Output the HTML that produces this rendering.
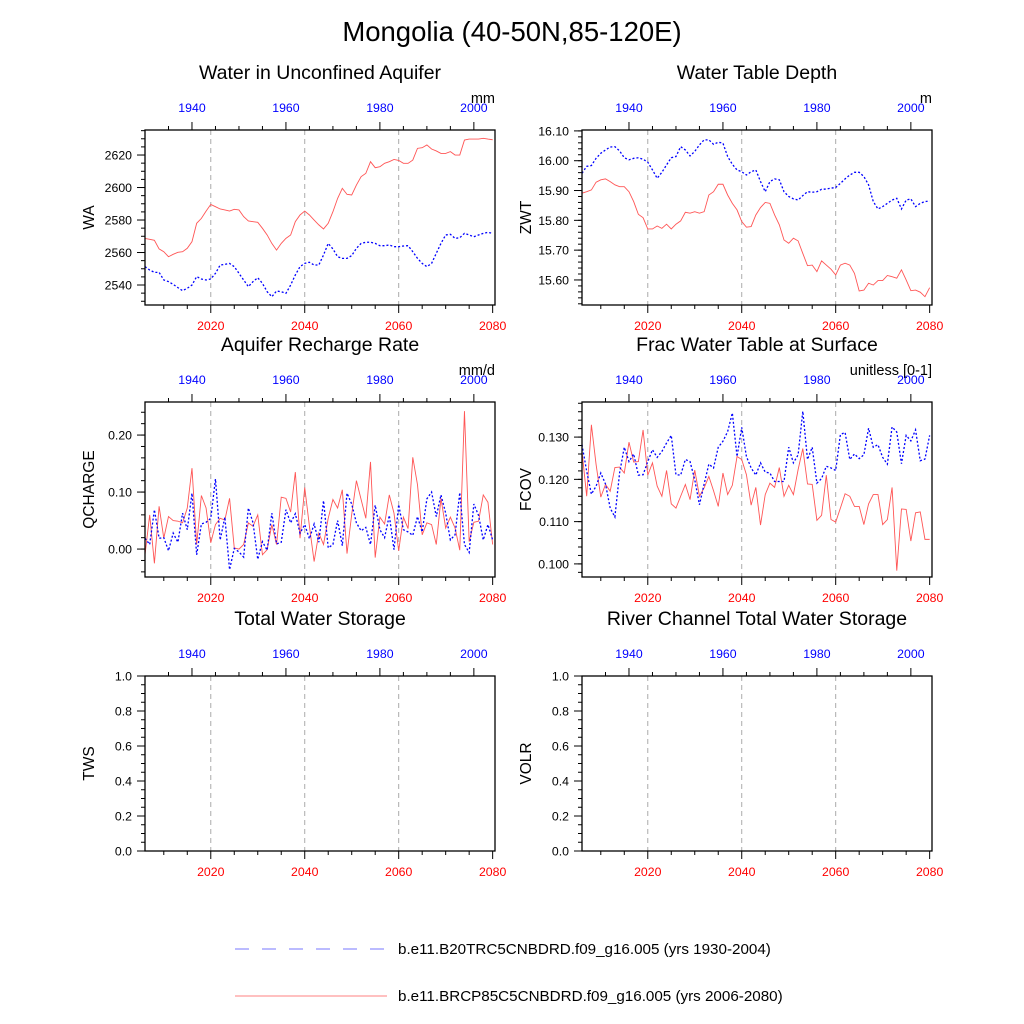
<!DOCTYPE html>
<html><head><meta charset="utf-8"><style>
html,body{margin:0;padding:0;background:#fff;}
svg{display:block;font-family:"Liberation Sans",sans-serif;}
</style></head><body>
<svg id="chart" width="1024" height="1024" viewBox="0 0 1024 1024">
<rect width="1024" height="1024" fill="#fff"/>
<text x="512" y="41" text-anchor="middle" font-size="27.5">Mongolia (40-50N,85-120E)</text>
<g id="legend">
 <line x1="235" y1="949" x2="387" y2="949" stroke="#7777ff" stroke-width="1" stroke-dasharray="14,13"/>
 <text x="398" y="954" font-size="15.2">b.e11.B20TRC5CNBDRD.f09_g16.005 (yrs 1930-2004)</text>
 <line x1="235" y1="996" x2="387" y2="996" stroke="#ff8080" stroke-width="1"/>
 <text x="398" y="1001" font-size="15.2">b.e11.BRCP85C5CNBDRD.f09_g16.005 (yrs 2006-2080)</text>
</g>
</svg>
<script>
const futureYears = Array.from({length:75},(_, i)=>2006+i);
const histYears = Array.from({length:75},(_, i)=>1930+i);
const bottomTicks = [2020,2040,2060,2080];
const topTicks = [1940,1960,1980,2000];

const waFuture = [2568.7,2568.1,2567.5,2562.2,2560.5,2557.4,2558.9,2560.1,2560.5,2562.6,2566.7,2578,2581,2585.5,2589.6,2588.2,2586.8,2586.2,2585.5,2586.6,2586.2,2582.1,2579.4,2579,2578.6,2574.9,2570.8,2565.6,2561.5,2565.6,2568.7,2570.8,2579,2583.1,2585.5,2583.1,2580,2577,2574.5,2578,2585.1,2593.3,2599.5,2595.8,2595.4,2601.5,2606.7,2608.7,2615.9,2612.2,2612.8,2614.9,2615.9,2617.3,2616.7,2614.9,2614.9,2616.9,2624.1,2624.5,2626.2,2623.7,2622.5,2621,2621,2622.1,2620,2620,2629.2,2629.8,2629.8,2629.8,2630.3,2629.8,2629.4];
const waHist = [2551.3,2549.2,2547.8,2547.8,2543.1,2542.1,2540.4,2538.4,2536.5,2538,2540,2545.2,2543.7,2543.1,2543.7,2547.2,2552.3,2552.7,2553.3,2551.3,2547.2,2543.1,2539,2542.1,2544.5,2541,2535.9,2532.8,2536.3,2535.9,2534.9,2540,2546.2,2551.3,2553.3,2554,2552.3,2552.3,2558.5,2565.6,2562.2,2557.4,2556.4,2556.4,2558.1,2562.6,2565.6,2566.3,2566.3,2565.6,2564.2,2564.2,2564.6,2563.6,2563.6,2564,2564.2,2560.5,2556.4,2553.3,2551.3,2553.3,2559.5,2565.6,2570.8,2571.2,2568.7,2569.1,2571.8,2570.8,2569.7,2570.8,2571.8,2572.4,2571.8];
const zwtFuture = [15.891,15.896,15.902,15.928,15.936,15.939,15.930,15.919,15.913,15.913,15.896,15.863,15.820,15.809,15.771,15.771,15.781,15.773,15.787,15.771,15.787,15.798,15.827,15.824,15.829,15.824,15.829,15.885,15.896,15.921,15.921,15.885,15.857,15.835,15.796,15.777,15.779,15.818,15.843,15.860,15.857,15.818,15.785,15.734,15.723,15.740,15.731,15.689,15.648,15.650,15.628,15.664,15.650,15.636,15.617,15.650,15.656,15.650,15.622,15.563,15.566,15.589,15.583,15.598,15.598,15.615,15.611,15.606,15.634,15.600,15.564,15.566,15.559,15.544,15.574];
const zwtHist = [15.958,15.981,15.984,16.008,16.025,16.036,16.046,16.047,16.033,16.010,16.003,16.008,16.010,16.005,15.995,15.969,15.941,15.961,15.986,16.010,16.014,16.047,16.036,16.016,16.031,16.053,16.070,16.070,16.055,16.062,16.059,16.014,15.988,15.969,15.963,15.952,15.963,15.969,15.930,15.896,15.930,15.939,15.936,15.896,15.880,15.872,15.868,15.883,15.896,15.894,15.896,15.904,15.905,15.908,15.910,15.924,15.939,15.952,15.961,15.961,15.947,15.919,15.863,15.838,15.846,15.857,15.868,15.874,15.838,15.868,15.872,15.846,15.857,15.863,15.865];
const qFuture = [-0.010,0.060,-0.025,0.075,0.019,0.057,0.050,0.049,0.046,0.072,0.142,0.008,0.094,0.072,0.011,0.043,0.054,0.051,0.089,0.002,0.000,0.008,0.046,0.040,0.060,-0.010,-0.001,0.043,0.008,0.091,0.089,0.065,0.135,0.019,0.108,0.040,-0.022,0.028,0.008,0.054,0.087,0.072,0.104,-0.008,0.061,0.120,0.087,0.054,0.153,-0.015,0.056,0.044,0.095,0.063,-0.003,0.056,0.036,0.161,0.113,0.025,0.046,0.043,0.008,0.089,0.037,0.056,0.037,-0.002,0.242,0.013,0.047,0.049,0.095,0.082,0.008];
const qHist = [0.019,0.008,0.069,0.019,0.020,-0.003,0.028,0.012,0.063,0.034,0.098,-0.010,0.044,0.047,0.054,0.123,0.016,0.056,-0.036,0.001,-0.005,-0.014,0.072,0.046,-0.018,0.013,-0.002,0.063,0.009,0.012,0.069,0.046,0.062,0.028,0.043,0.018,0.044,0.012,0.085,0.002,0.008,0.050,0.006,0.098,0.079,0.046,0.032,0.038,0.008,0.077,0.034,0.020,0.059,-0.001,0.078,0.034,0.030,0.024,0.057,0.030,0.088,0.100,0.057,0.095,0.063,0.016,0.025,0.099,0.008,-0.006,0.079,0.059,0.016,0.043,0.016];
const fFuture = [0.1266,0.1160,0.1329,0.1235,0.1158,0.1188,0.1172,0.1228,0.1229,0.1215,0.1288,0.1241,0.1242,0.1317,0.1210,0.1239,0.1184,0.1160,0.1221,0.1142,0.1132,0.1160,0.1188,0.1152,0.1222,0.1160,0.1180,0.1207,0.1173,0.1136,0.1215,0.1164,0.1186,0.1254,0.1247,0.1211,0.1139,0.1181,0.1092,0.1164,0.1191,0.1181,0.1228,0.1160,0.1186,0.1164,0.1223,0.1273,0.1189,0.1188,0.1103,0.1115,0.1210,0.1105,0.1099,0.1132,0.1166,0.1160,0.1136,0.1136,0.1093,0.1142,0.1164,0.1164,0.1093,0.1105,0.1181,0.0984,0.1130,0.1129,0.1054,0.1121,0.1123,0.1058,0.1058];
const fHist = [0.1282,0.1219,0.1165,0.1184,0.1215,0.1189,0.1132,0.1111,0.1215,0.1276,0.1242,0.1260,0.1210,0.1211,0.1242,0.1270,0.1252,0.1266,0.1286,0.1304,0.1211,0.1210,0.1247,0.1242,0.1199,0.1140,0.1189,0.1236,0.1227,0.1276,0.1290,0.1313,0.1357,0.1254,0.1323,0.1254,0.1227,0.1210,0.1239,0.1217,0.1215,0.1195,0.1195,0.1195,0.1276,0.1239,0.1258,0.1361,0.1247,0.1276,0.1191,0.1202,0.1231,0.1227,0.1221,0.1306,0.1311,0.1247,0.1260,0.1249,0.1258,0.1321,0.1276,0.1282,0.1252,0.1236,0.1324,0.1312,0.1237,0.1304,0.1291,0.1317,0.1244,0.1248,0.1304];

const waTicks = [2540,2560,2580,2600,2620];
const zwtTicks = [15.60,15.70,15.80,15.90,16.00,16.10];
const qTicks = [0.00,0.10,0.20];
const fTicks = [0.100,0.110,0.120,0.130];
const unitTicks = [0.0,0.2,0.4,0.6,0.8,1.0];

const NS='http://www.w3.org/2000/svg';
const svg=document.getElementById('chart');
function mk(tag,attrs,parent){const e=document.createElementNS(NS,tag);for(const k in attrs)e.setAttribute(k,attrs[k]);(parent||svg).appendChild(e);return e;}

const panels=[
 {key:'wa',title:'Water in Unconfined Aquifer',ylab:'WA',unit:'mm',x0:145,y0:130,ymin:2527.7,ymax:2635.4,ticks:waTicks,minor:5,dec:0,fut:waFuture,hist:waHist},
 {key:'zwt',title:'Water Table Depth',ylab:'ZWT',unit:'m',x0:582,y0:130,ymin:15.516,ymax:16.103,ticks:zwtTicks,minor:0.02,dec:2,fut:zwtFuture,hist:zwtHist},
 {key:'qcharge',title:'Aquifer Recharge Rate',ylab:'QCHARGE',unit:'mm/d',x0:145,y0:402,ymin:-0.049,ymax:0.258,ticks:qTicks,minor:0.02,dec:2,fut:qFuture,hist:qHist},
 {key:'fcov',title:'Frac Water Table at Surface',ylab:'FCOV',unit:'unitless [0-1]',x0:582,y0:402,ymin:0.0969,ymax:0.1383,ticks:fTicks,minor:0.002,dec:3,fut:fFuture,hist:fHist},
 {key:'tws',title:'Total Water Storage',ylab:'TWS',unit:'',x0:145,y0:676,ymin:0,ymax:1,ticks:unitTicks,minor:0.05,dec:1,fut:null,hist:null},
 {key:'volr',title:'River Channel Total Water Storage',ylab:'VOLR',unit:'',x0:582,y0:676,ymin:0,ymax:1,ticks:unitTicks,minor:0.05,dec:1,fut:null,hist:null}
];
const W=350,H=175;

panels.forEach(p=>{
 const g=mk('g',{});
 
 
 const xb=y=>p.x0+(y-2006)/74.5*W;
 const xt=y=>p.x0+(y-1930)/74.5*W;
 const ys=v=>p.y0+H-(v-p.ymin)/(p.ymax-p.ymin)*H;
 const t=mk('text',{x:p.x0+W/2,y:p.y0-51,'text-anchor':'middle','font-size':19.5},g);t.textContent=p.title;
 
 if(p.unit){const u=mk('text',{x:p.x0+W,y:p.y0-27,'text-anchor':'end','font-size':14.5},g);u.textContent=p.unit;
  }
 const yl=mk('text',{transform:`translate(${p.x0-51},${p.y0+H/2}) rotate(-90)`,'text-anchor':'middle','font-size':15.5},g);yl.textContent=p.ylab;
 
 [2020,2040,2060].forEach(y=>{const l=mk('line',{x1:xb(y),x2:xb(y),y1:p.y0,y2:p.y0+H,stroke:'#aaa','stroke-dasharray':'5,4','stroke-width':1},g);
  });
 for(let y=2010;y<=2080;y+=5){const maj=y%20==0;mk('line',{x1:xb(y),x2:xb(y),y1:p.y0+H,y2:p.y0+H+(maj?8:4),stroke:'#000','stroke-width':1},g);}
 bottomTicks.forEach(y=>{const e=mk('text',{x:xb(y),y:p.y0+H+25,'text-anchor':'middle','font-size':12.3,fill:'#ff0000'},g);e.textContent=y;
  });
 for(let y=1935;y<=2004;y+=5){const maj=y%20==0;mk('line',{x1:xt(y),x2:xt(y),y1:p.y0,y2:p.y0-(maj?8:4),stroke:'#000','stroke-width':1},g);}
 topTicks.forEach(y=>{const e=mk('text',{x:xt(y),y:p.y0-18,'text-anchor':'middle','font-size':12.3,fill:'#0000ff'},g);e.textContent=y;
  });
 const step=p.minor;const n0=Math.ceil(p.ymin/step-1e-6),n1=Math.floor(p.ymax/step+1e-6);
 for(let k=n0;k<=n1;k++){const v=k*step;mk('line',{x1:p.x0,x2:p.x0-4,y1:ys(v),y2:ys(v),stroke:'#000','stroke-width':1},g);}
 p.ticks.forEach(v=>{mk('line',{x1:p.x0,x2:p.x0-8,y1:ys(v),y2:ys(v),stroke:'#000','stroke-width':1},g);
  const e=mk('text',{x:p.x0-13,y:ys(v)+4.5,'text-anchor':'end','font-size':12.3},g);e.textContent=v.toFixed(p.dec);
  });
 if(p.fut){
  const r=mk('polyline',{points:p.fut.map((v,i)=>xb(futureYears[i])+','+ys(v)).join(' '),fill:'none',stroke:'#ff5555','stroke-width':0.9},g);
  
  const b=mk('polyline',{points:p.hist.map((v,i)=>xt(histYears[i])+','+ys(v)).join(' '),fill:'none',stroke:'#0000ff','stroke-width':1.3,'stroke-dasharray':'2,2'},g);
  
 }
 const f=mk('rect',{x:p.x0,y:p.y0,width:W,height:H,fill:'none',stroke:'#000','stroke-width':1.3},g);
 
});
</script>
</body></html>
